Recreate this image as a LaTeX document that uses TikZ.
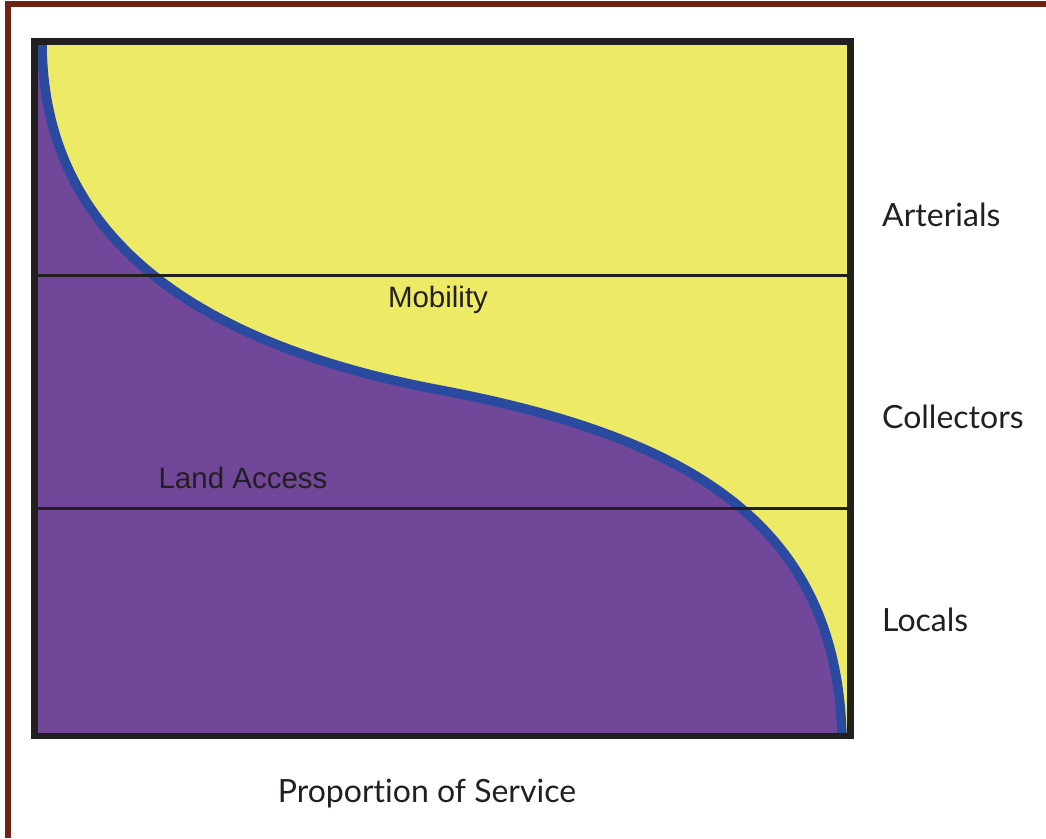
\documentclass[tikz,border=0pt]{standalone}
\usepackage{fontspec}
\setmainfont{Lato}[Ligatures={NoCommon}]
\newfontfamily\arialfont{Liberation Sans}
\definecolor{brownb}{HTML}{6E2314}
\definecolor{yel}{HTML}{EDEB66}
\definecolor{purp}{HTML}{704799}
\definecolor{curveblue}{HTML}{2A4AA0}
\definecolor{frame}{HTML}{231F20}
\tikzset{
  inlabel/.style={font=\arialfont\fontsize{29.5}{34}\selectfont, text=frame, inner sep=0pt, anchor=base},
  sidelabel/.style={font=\fontsize{32}{37}\selectfont, text=frame, inner sep=0pt, anchor=base west},
}
\begin{document}
\begin{tikzpicture}[x=1pt,y=-1pt]
\useasboundingbox (0,0) rectangle (1046,838);
% brown border
\fill[brownb] (5,1) rectangle (1046,7);
\fill[brownb] (5,1) rectangle (11,838);
% yellow background
\fill[yel] (34.5,41.5) rectangle (850.5,736);
% curve coordinates
\coordinate (c0) at (42,41.5);
\coordinate (cm) at (440,390);
\coordinate (c1) at (842,736);
% purple area
\fill[purp] (34.5,41.5) -- (c0) .. controls (42,240) and (200,345) .. (cm)
  .. controls (700,439) and (836,530) .. (c1) -- (34.5,736) -- cycle;
% blue curve
\begin{scope}
\clip (34.5,41.5) rectangle (850.5,736);
\draw[curveblue, line width=9.5pt] (c0) .. controls (42,240) and (200,345) .. (cm)
  .. controls (700,439) and (836,530) .. (c1);
\end{scope}
% horizontal lines
\coordinate (l1a) at (34.5,275);
\coordinate (l1b) at (850.5,275);
\coordinate (l2a) at (34.5,508);
\coordinate (l2b) at (850.5,508);
\draw[frame, line width=3pt] (l1a) -- (l1b);
\draw[frame, line width=3pt] (l2a) -- (l2b);
% frame
\draw[frame, line width=6.5pt] (34.5,41.5) rectangle (850.5,736);
% labels
\node[inlabel] (mob) at (438,307) {Mobility};
\node[inlabel] (land) at (243,488) {Land Access};
\node[sidelabel] (art) at (882,226) {Arterials};
\node[sidelabel] (col) at (882,428) {Collectors};
\node[sidelabel] (loc) at (882,631) {Locals};
\node[font=\fontsize{32}{37}\selectfont, text=frame, inner sep=0pt, anchor=base] (prop) at (427,802) {Proportion of Service};
\end{tikzpicture}
\end{document}
